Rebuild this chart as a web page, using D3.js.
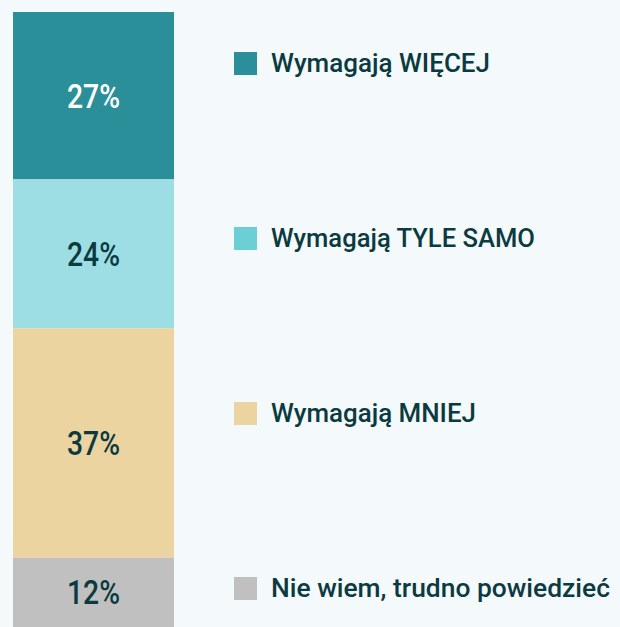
<!DOCTYPE html>
<html><head><meta charset="utf-8">
<script src="https://cdn.jsdelivr.net/npm/d3@7"></script>
<style>
html,body{margin:0;padding:0;background:#f4f9fc;}
svg{display:block;}
</style></head>
<body>
<svg id="chart" width="620" height="627"></svg>
<script>
const categories = ["Wymagają WIĘCEJ", "Wymagają TYLE SAMO", "Wymagają MNIEJ", "Nie wiem, trudno powiedzieć"];
const values = [27, 24, 37, 12];
const barColors = ["#2b8f99", "#9ddee4", "#ebd4a0", "#c0c0c0"];
const legendColors = ["#2b8f99", "#6dcfd6", "#ebd4a0", "#c0c0c0"];
const labelColors = ["#ffffff", "#0b3a40", "#0b3a40", "#0b3a40"];

const svg = d3.select("#chart");
const font = "Roboto, 'DejaVu Sans Condensed', sans-serif";

const y = d3.scaleLinear().domain([0, 100]).range([12, 632]);
const x = d3.scaleBand().domain(["bar"]).range([13, 174]).padding(0);

let cum = 0;
const stacked = values.map((v, i) => { const d = {cat: categories[i], v, i, y0: cum, y1: cum + v}; cum += v; return d; });

svg.selectAll("rect.seg").data(stacked).enter().append("rect")
  .attr("class", "seg")
  .attr("x", x("bar")).attr("width", x.bandwidth())
  .attr("y", d => y(d.y0)).attr("height", d => y(d.y1) - y(d.y0))
  .attr("fill", d => barColors[d.i]);

svg.selectAll("text.lbl").data(stacked).enter().append("text")
  .attr("class", "lbl")
  .attr("x", x("bar") + x.bandwidth() / 2)
  .attr("y", d => (y(d.y0) + Math.min(y(d.y1), 627)) / 2)
  .attr("dy", "0.36em")
  .attr("text-anchor", "middle")
  .attr("font-family", font).attr("font-weight", 500).attr("font-size", 33)
  .attr("textLength", 53).attr("lengthAdjust", "spacingAndGlyphs")
  .attr("fill", d => labelColors[d.i])
  .text(d => d.v + "%");

const ly = d3.scalePoint().domain(categories).range([63, 588]);
const legend = svg.selectAll("g.leg").data(stacked).enter().append("g")
  .attr("class", "leg")
  .attr("transform", d => `translate(234,${ly(d.cat)})`);
legend.append("rect").attr("x", 0).attr("y", -11).attr("width", 23).attr("height", 23)
  .attr("fill", d => legendColors[d.i]);
const textWidths = [219, 264, 205, 339];
legend.append("text").attr("x", 37).attr("y", 0).attr("dy", "0.36em")
  .attr("font-family", font).attr("font-weight", 500).attr("font-size", 25)
  .attr("fill", "#0b3a40")
  .attr("textLength", d => textWidths[d.i]).attr("lengthAdjust", "spacingAndGlyphs")
  .text(d => d.cat);
</script>
</body></html>
